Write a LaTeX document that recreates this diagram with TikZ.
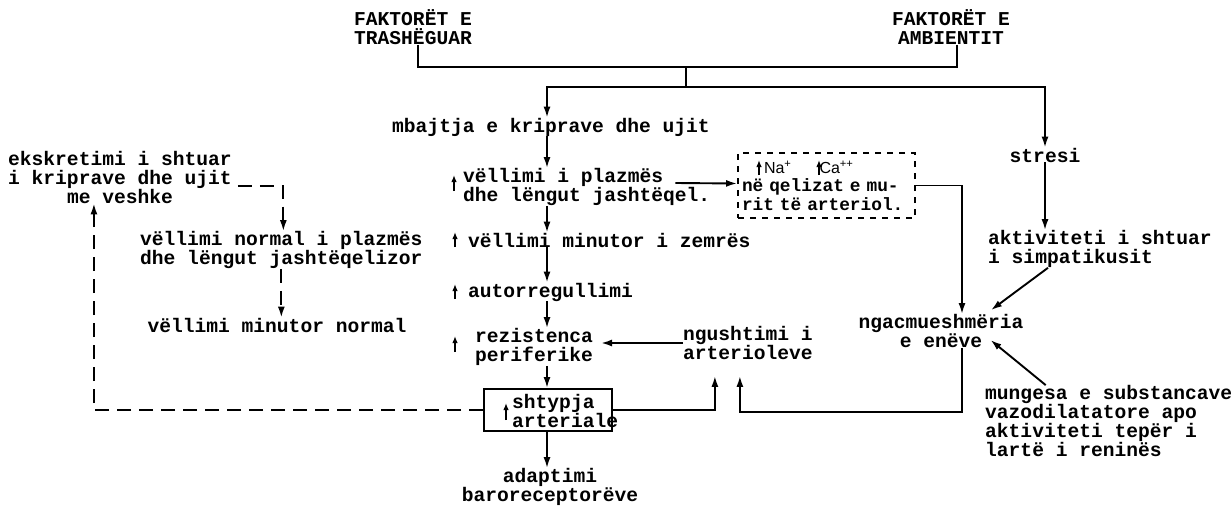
\documentclass[tikz,border=0pt]{standalone}
\usepackage{fontspec}
\setmonofont{Liberation Mono}
\newfontfamily\sansf{Liberation Sans}
\usetikzlibrary{arrows.meta}
\begin{document}
\begin{tikzpicture}[x=1pt,y=-1pt,
  every node/.style={inner sep=0pt, font=\ttfamily\bfseries\fontsize{19.6}{19}\selectfont},
  lbl/.style={align=left},
  ctr/.style={align=center},
  ln/.style={line width=1.9pt},
  arr/.style={ln, -{Latex[length=11pt,width=7pt]}},
  darr/.style={arr, dash pattern=on 14pt off 8pt},
  upa/.style={line width=1.6pt, -{Latex[length=7pt,width=5.5pt]}},
  nabox/.style={draw, line width=1.9pt, dash pattern=on 6pt off 6pt, minimum width=177pt, minimum height=65pt, inner xsep=4pt, text width=169pt, align=left, font=\ttfamily\bfseries\fontsize{17.8}{18.5}\selectfont},
  shbox/.style={draw, line width=1.9pt, minimum width=128pt, minimum height=42pt}
]
\useasboundingbox (0,0) rectangle (1231,506);
\fill[white] (0,0) rectangle (1231,506);

% nodes
\node[ctr] (fa1) at (413,27) {FAKTORËT E\\TRASHËGUAR};
\node[ctr] (fa2) at (951,27) {FAKTORËT E\\AMBIENTIT};
\node (mb) at (551,127) {mbajtja e kriprave dhe ujit};
\node[lbl, anchor=west] (vp) at (463,187) {vëllimi i plazmës\\dhe lëngut jashtëqel.};
\node[lbl, anchor=west] (vm) at (468,240) {vëllimi minutor i zemrës};
\node[lbl, anchor=west] (au) at (468,292) {autorregullimi};
\node[lbl, anchor=west] (rz) at (475,347) {rezistenca\\periferike};
\node[shbox] (sh) at (548,410) {};
\node[lbl, anchor=west] (sht) at (512,411) {shtypja\\arteriale};
\node[ctr] (ad) at (550,487) {adaptimi\\baroreceptorëve};
\node[lbl, anchor=west] (ng) at (683,343) {ngushtimi i\\arterioleve};
\node[nabox] (bx) at (826.5,185.5) {\hspace*{22pt}{\sansf\mdseries\fontsize{16}{16}\selectfont Na\textsuperscript{+}}\hspace{28pt}{\sansf\mdseries\fontsize{16}{16}\selectfont Ca\textsuperscript{++}}\\në qelizat e mu-\\rit të arteriol.};
\node (st) at (1045,155) {stresi};
\node[lbl, anchor=west] (ak) at (988,249) {aktiviteti i shtuar\\i simpatikusit};
\node[ctr] (nc) at (941,331) {ngacmueshmëria\\e enëve};
\node[lbl, anchor=west] (mu) at (985,421) {mungesa e substancave\\vazodilatatore apo\\aktiviteti tepër i\\lartë i reninës};
\node[lbl, anchor=west] (ek) at (8,177) {ekskretimi i shtuar\\i kriprave dhe ujit\\\phantom{mexxx}me veshke};
\node[lbl, anchor=west] (vn) at (140,250) {vëllimi normal i plazmës\\dhe lëngut jashtëqelizor};
\node (vmn) at (277,325) {vëllimi minutor normal};

% helper coordinates
\coordinate (j) at (686,67);
\coordinate (s) at (686,87);
\coordinate (cx) at (547,0);

% small up arrows (part of labels)
\draw[upa] (454,191) -- (454,175);
\draw[upa] (455,247) -- (455,232);
\draw[upa] (455,299) -- (455,284);
\draw[upa] (455,352) -- (455,336);
\draw[upa] (506,420) -- (506,403);
\draw[upa] (759,175) -- (759,160);
\draw[upa] (819,175) -- (819,160);

% connectors
\draw[ln] ([xshift=5pt]fa1.south) |- (j) -| ([xshift=6pt]fa2.south);
\draw[ln] (j) -- (s);
\draw[arr] (s) -| (cx |- mb.north);
\draw[arr] (s) -| (st.north);
\draw[arr] (cx |- mb.south) -- (cx |- vp.north);
\draw[arr] (cx |- vp.south) -- (cx |- vm.north);
\draw[arr] (cx |- vm.south) -- (cx |- au.north);
\draw[arr] (cx |- au.south) -- (cx |- rz.north);
\draw[arr] (cx |- rz.south) -- (cx |- sh.north);
\draw[arr] (cx |- sh.south) -- (cx |- ad.north);
\draw[arr] ([xshift=-35pt,yshift=4pt]vp.east) -- ([yshift=2pt]bx.west);
\draw[arr] (bx.east) -| ([xshift=21pt]nc.north);
\draw[arr] (st.south) -- (st.south |- ak.north);
\draw[arr] ([xshift=-52pt]ak.south) -- ([xshift=50pt,yshift=4pt]nc.north);
\draw[arr] ([xshift=-63pt]mu.north) -- ([xshift=-33pt,yshift=-9pt]nc.east);
\draw[arr, shorten >=8pt] (ng.west) -- (ng.west -| rz.east);
\draw[arr, shorten >=16pt] (sh.east) -| ([xshift=-33pt]ng.south);
\draw[arr, shorten >=16pt] ([xshift=21pt]nc.south) |- ([yshift=-2pt]sh.east -| ng.south) -| ([xshift=-8pt]ng.south);
\draw[darr] (sh.west) -| ([xshift=-26pt]ek.south);
\draw[darr] ([xshift=6pt,yshift=-9pt]ek.east) -| ([xshift=2pt]vn.north);
\draw[darr] (vn.south) -- (vn.south |- vmn.north);
\end{tikzpicture}
\end{document}
